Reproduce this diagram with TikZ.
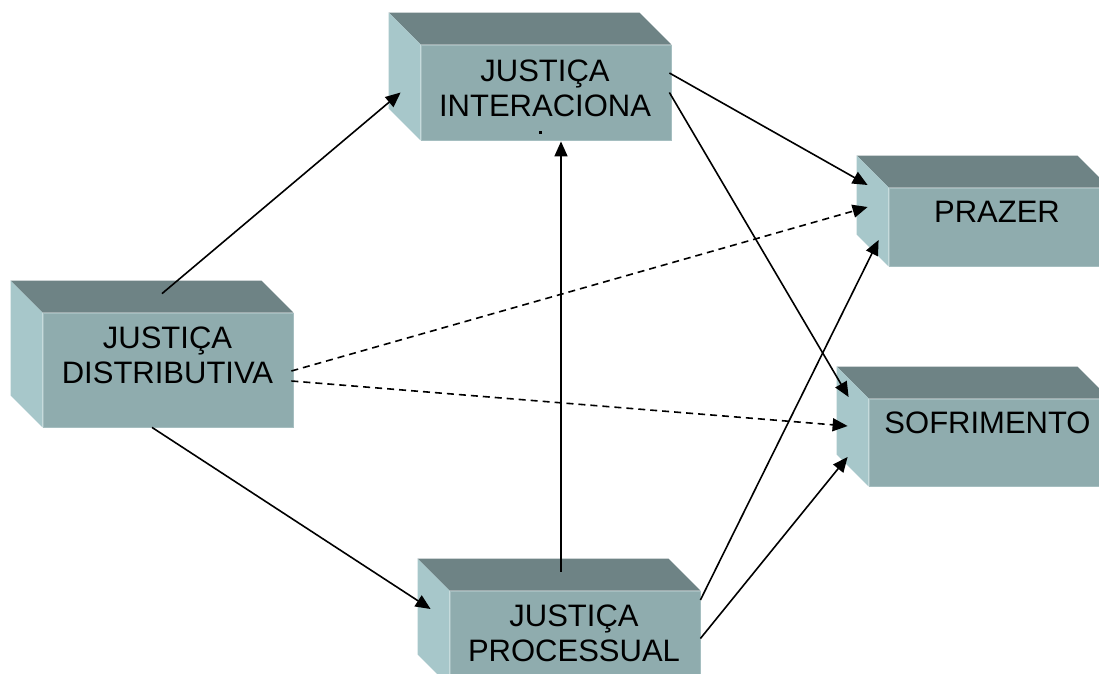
\documentclass[tikz,border=0pt]{standalone}
\usepackage{fontspec}
\setmainfont{Liberation Sans}
\usetikzlibrary{arrows,calc,arrows.meta}
\usetikzlibrary{positioning}

\begin{document}
\begin{tikzpicture}[x=1pt,y=-1pt,
		face/.style={fill=frontcolor,draw=edgecolor,line width=0.8pt,inner sep=0pt},
		rotulo/.style={align=center,inner sep=0pt,font=\fontsize{31}{35.5}\selectfont},
		seta/.style={-{Triangle[length=15pt,width=13pt]},line width=1.6pt},
		tracejada/.style={seta,dash pattern=on 7pt off 5pt}]

		    \definecolor{frontcolor}{RGB}{143,172,174}
		    \definecolor{edgecolor}{RGB}{165,190,192}
		    \definecolor{topcolor}{RGB}{110,131,133}
		    \definecolor{sidecolor}{RGB}{167,199,202}
		    \useasboundingbox (0,0) rectangle (1099,673);
		    \clip (0,0) rectangle (1099,673);

		    % faces da frente
		    \node(dist) [face,minimum width=250pt,minimum height=114pt] at (168,370) {};
		    \node(inter) [face,minimum width=250pt,minimum height=95pt] at (546,92.5) {};
		    \node(proc) [face,minimum width=250pt,minimum height=95pt] at (575,638.5) {};
		    \node(praz) [face,minimum width=220pt,minimum height=78pt] at (999,227) {};
		    \node(sofr) [face,minimum width=240pt,minimum height=87pt] at (989,442.5) {};

		    % topo e lado de cada bloco
		    \foreach \n in {dist,inter,proc,praz,sofr} {
		      \fill[topcolor] (\n.north west) -- ++(-32,-32) -- ([shift={(-32,-32)}]\n.north east) -- (\n.north east) -- cycle;
		      \fill[sidecolor] (\n.north west) -- ++(-32,-32) -- ([shift={(-32,-32)}]\n.south west) -- (\n.south west) -- cycle;
		    }

		    \node(distt) [rotulo] at ($(dist.center)+(-0.5,-14.5)$) {JUSTIÇA\\DISTRIBUTIVA};
		    \node(intert) [rotulo] at ($(inter.center)+(-1,-4)$) {JUSTIÇA\\INTERACIONA};
		    \node(proct) [rotulo] at ($(proc.center)+(-1,-5)$) {JUSTIÇA\\PROCESSUAL};
		    \node(prazt) [rotulo] at ($(praz.center)+(-2,-15)$) {PRAZER};
		    \node(sofrt) [rotulo] at ($(sofr.center)+(-1.5,-20)$) {SOFRIMENTO};
		    \fill (539,130.5) rectangle (542,133.5);

		    \draw[seta] ([shift={(-6,-19)}]dist.north) -- ([shift={(-20,0)}]inter.west);
		    \draw[seta] ([shift={(-16,0)}]dist.south) -- ([shift={(-19,-29.5)}]proc.west);
		    \draw[tracejada] ([shift={(-2,1)}]dist.east) -- ([shift={(-21,-20)}]praz.west);
		    \draw[tracejada] ([shift={(-2,11)}]dist.east) -- ([shift={(-21,-16.5)}]sofr.west);
		    \draw[seta] ([shift={(-14,-19)}]proc.north) -- ([shift={(15,1)}]inter.south);
		    \draw[seta] ([shift={(-2,-19.5)}]inter.east) -- ([shift={(-21,-42)}]praz.west);
		    \draw[seta] ([shift={(-2,0)}]inter.east) -- ([shift={(-20,-45.5)}]sofr.west);
		    \draw[seta] ([shift={(0,-38.5)}]proc.east) -- ([shift={(-10,13)}]praz.west);
		    \draw[seta] (proc.east) -- ([shift={(-21,14.5)}]sofr.west);

\end{tikzpicture}
\end{document}
